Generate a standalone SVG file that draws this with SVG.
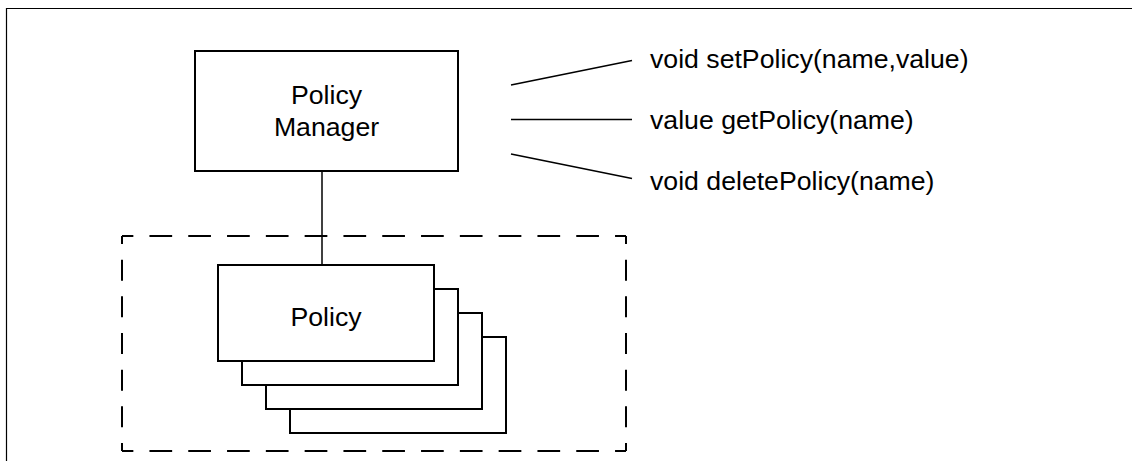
<svg xmlns="http://www.w3.org/2000/svg" width="1132" height="461" viewBox="0 0 1132 461">
<style>
.box{fill:#fff;stroke:#000;stroke-width:2}
.lbl{font-family:"Liberation Sans",Arial,sans-serif;font-size:26.67px;fill:#000}
.conn{stroke:#000;stroke-width:1.5;fill:none}
.dash{stroke:#000;stroke-width:2;fill:none}
</style>
<rect width="1132" height="461" fill="#fff"/>
<path d="M6.5,461 V8.5 H1132" fill="none" stroke="#000" stroke-width="1.2"/>
<g id="policy-group">
<line class="dash" x1="122" y1="236" x2="626" y2="236" stroke-dasharray="22.7 16.1" stroke-dashoffset="11.35"/>
<line class="dash" x1="122" y1="451" x2="626" y2="451" stroke-dasharray="22.7 16.1" stroke-dashoffset="11.35"/>
<line class="dash" x1="122" y1="236" x2="122" y2="451" stroke-dasharray="21 15.67" stroke-dashoffset="13"/>
<line class="dash" x1="626" y1="236" x2="626" y2="451" stroke-dasharray="21 15.67" stroke-dashoffset="13"/>
</g>
<g id="connectors">
<line class="conn" x1="322" y1="171" x2="322" y2="265" stroke-width="2"/>
<line class="conn" x1="511" y1="85" x2="632" y2="60.5"/>
<line class="conn" x1="511" y1="119.5" x2="632" y2="119.5" stroke-width="2"/>
<line class="conn" x1="511" y1="154" x2="632" y2="178.5"/>
</g>
<g id="policy-manager">
<rect class="box" x="195" y="51" width="263" height="120"/>
<text class="lbl" x="326.5" y="104" text-anchor="middle">Policy</text>
<text class="lbl" x="326.5" y="136" text-anchor="middle">Manager</text>
</g>
<g id="policy">
<rect class="box" x="290" y="337" width="216" height="96"/>
<rect class="box" x="266" y="313" width="216" height="96"/>
<rect class="box" x="242" y="289" width="216" height="96"/>
<rect class="box" x="218" y="265" width="216" height="96"/>
<text class="lbl" x="326" y="326" text-anchor="middle">Policy</text>
</g>
<g id="methods">
<text class="lbl" x="650" y="68">void setPolicy(name,value)</text>
<text class="lbl" x="650" y="129">value getPolicy(name)</text>
<text class="lbl" x="650" y="190">void deletePolicy(name)</text>
</g>
</svg>
